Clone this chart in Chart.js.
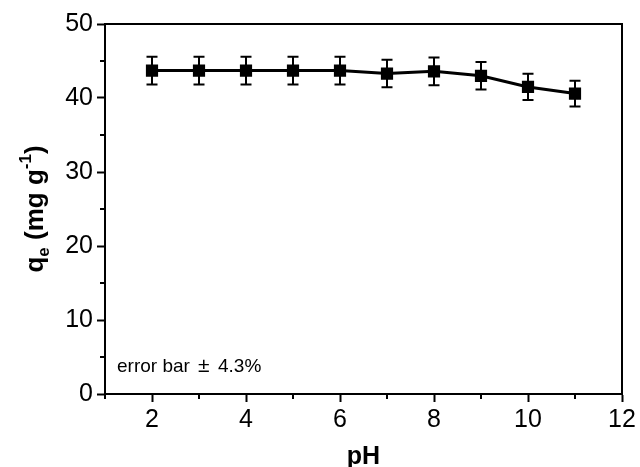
<!DOCTYPE html>
<html>
<head>
<meta charset="utf-8">
<script src="https://cdn.jsdelivr.net/npm/chart.js@4.4.0/dist/chart.umd.min.js"></script>
<style>
  html, body { margin: 0; padding: 0; background: #fff; }
  #wrap { width: 640px; height: 467px; }
</style>
</head>
<body>
<div id="wrap"><canvas id="myChart" width="640" height="467"></canvas></div>
<script>
// data
const phValues = [2, 3, 4, 5, 6, 7, 8, 9, 10, 11];
const qeValues = [43.7, 43.7, 43.7, 43.7, 43.7, 43.3, 43.6, 43.0, 41.5, 40.6];
const errorPct = 4.3;
const xTicks = [2, 4, 6, 8, 10, 12];
const xMinor = [1, 3, 5, 7, 9, 11];
const yTicks = [0, 10, 20, 30, 40, 50];
const yMinor = [5, 15, 25, 35, 45];

const FONT = "'Liberation Sans', Arial, sans-serif";

// error bars, minor ticks, frame and titles
const extras = {
    id: 'extras',
    beforeDatasetsDraw(chart) {
        const ctx = chart.ctx;
        const x = chart.scales.x, y = chart.scales.y;
        ctx.save();
        ctx.strokeStyle = '#000';
        ctx.lineWidth = 2;
        phValues.forEach((ph, i) => {
            const e = qeValues[i] * errorPct / 100;
            const px = x.getPixelForValue(ph);
            const top = y.getPixelForValue(qeValues[i] + e);
            const bot = y.getPixelForValue(qeValues[i] - e);
            ctx.beginPath();
            ctx.moveTo(px, top); ctx.lineTo(px, bot);
            ctx.moveTo(px - 5.5, top); ctx.lineTo(px + 5.5, top);
            ctx.moveTo(px - 5.5, bot); ctx.lineTo(px + 5.5, bot);
            ctx.stroke();
        });
        ctx.restore();
    },
    afterDraw(chart) {
        const ctx = chart.ctx;
        const a = chart.chartArea;
        const x = chart.scales.x, y = chart.scales.y;
        ctx.save();
        ctx.strokeStyle = '#000';
        ctx.lineWidth = 2;
        // frame top / right
        ctx.beginPath();
        ctx.moveTo(a.left, a.top); ctx.lineTo(a.right, a.top);
        ctx.lineTo(a.right, a.bottom);
        ctx.stroke();
        // minor ticks
        ctx.beginPath();
        xMinor.forEach(v => {
            const px = x.getPixelForValue(v);
            ctx.moveTo(px, a.bottom); ctx.lineTo(px, a.bottom + 5);
        });
        yMinor.forEach(v => {
            const py = y.getPixelForValue(v);
            ctx.moveTo(a.left, py); ctx.lineTo(a.left - 5, py);
        });
        ctx.stroke();

        ctx.fillStyle = '#000';
        // note
        ctx.textAlign = 'left';
        ctx.textBaseline = 'alphabetic';
        ctx.font = '19px ' + FONT;
        ctx.fillText('error bar', 117, 372);
        ctx.font = '21px ' + FONT;
        ctx.fillText('\u00B1', 198, 372);
        ctx.font = '19px ' + FONT;
        ctx.fillText('4.3%', 218, 372);

        // x title
        ctx.font = 'bold 25px ' + FONT;
        ctx.textAlign = 'center';
        ctx.fillText('pH', (a.left + a.right) / 2, 464);

        // y title with sub/superscript
        ctx.translate(43, (a.top + a.bottom) / 2);
        ctx.rotate(-Math.PI / 2);
        const parts = [
            { t: 'q', f: 'bold 26px ', dy: 0 },
            { t: 'e', f: 'bold 17px ', dy: 6 },
            { t: ' (mg g', f: 'bold 26px ', dy: 0 },
            { t: '-1', f: 'bold 17px ', dy: -12 },
            { t: ')', f: 'bold 26px ', dy: 0 }
        ];
        let total = 0;
        parts.forEach(p => { ctx.font = p.f + FONT; total += ctx.measureText(p.t).width; });
        let cx = -total / 2;
        ctx.textAlign = 'left';
        parts.forEach(p => {
            ctx.font = p.f + FONT;
            ctx.fillText(p.t, cx, p.dy);
            cx += ctx.measureText(p.t).width;
        });
        ctx.restore();
    }
};

const ctx = document.getElementById('myChart').getContext('2d');
const myChart = new Chart(ctx, {
    type: 'line',
    data: {
        datasets: [{
            data: phValues.map((v, i) => ({ x: v, y: qeValues[i] })),
            borderColor: '#000',
            backgroundColor: '#000',
            borderWidth: 3,
            pointStyle: 'rect',
            pointRadius: 6.5,
            pointHoverRadius: 6.5,
            tension: 0
        }]
    },
    options: {
        responsive: false,
        animation: false,
        events: [],
        layout: { padding: { left: 0, top: 24, right: 18, bottom: 0 } },
        plugins: { legend: { display: false }, tooltip: { enabled: false } },
        scales: {
            x: {
                type: 'linear',
                min: 1,
                max: 12,
                afterBuildTicks: (s) => { s.ticks = xTicks.map(v => ({ value: v })); },
                afterFit: (s) => { s.height = 73; },
                grid: { drawOnChartArea: false, color: '#000', tickLength: 8, tickWidth: 2 },
                border: { color: '#000', width: 2 },
                ticks: { color: '#000', font: { family: FONT, size: 25 }, padding: 3, maxRotation: 0 }
            },
            y: {
                min: 0,
                max: 50,
                afterBuildTicks: (s) => { s.ticks = yTicks.map(v => ({ value: v })); },
                afterFit: (s) => { s.width = 105; },
                grid: { drawOnChartArea: false, color: '#000', tickLength: 8, tickWidth: 2 },
                border: { color: '#000', width: 2 },
                ticks: { color: '#000', font: { family: FONT, size: 25 }, padding: 4 }
            }
        }
    },
    plugins: [extras]
});
</script>
</body>
</html>
